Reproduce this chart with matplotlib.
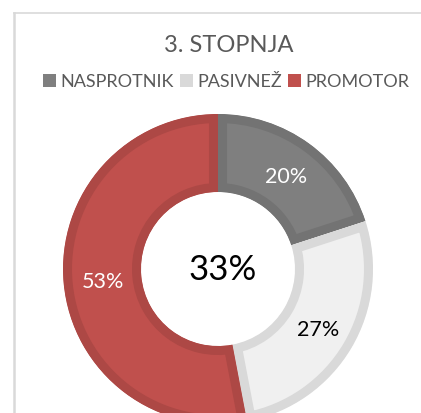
import matplotlib
matplotlib.use("Agg")
import numpy as np
import matplotlib.pyplot as plt
from matplotlib.patches import Wedge, Rectangle

# data
TITLE      = "3. STOPNJA"
CATEGORIES = ["NASPROTNIK", "PASIVNEŽ", "PROMOTOR"]
SHARES     = [20, 27, 53]
CENTER_TXT = "33%"

FILLS  = ["#7f7f7f", "#f0f0f0", "#c0504d"]
EDGES  = ["#737373", "#d9d9d9", "#ad4845"]
LEGEND_FILLS = ["#7f7f7f", "#d9d9d9", "#c0504d"]
LABEL_COLORS = ["white", "black", "white"]

W, H = 421, 414
plt.rcParams["font.family"] = ["Lato", "DejaVu Sans"]

fig = plt.figure(figsize=(W / 100, H / 100), dpi=100)
ax = fig.add_axes([0, 0, 1, 1])
ax.set_xlim(0, W)
ax.set_ylim(0, H)
ax.axis("off")

# chart frame (top + left border)
ax.plot([14, W], [H - 14, H - 14], color="#d9d9d9", lw=1.2)
ax.plot([14, 14], [0, H - 14], color="#d9d9d9", lw=1.8)

cx, cy = 218, H - 270
r_out, r_in = 155, 77
total = sum(SHARES)

# donut rings, edge drawn only on the inside of each wedge
start = 90.0
for share, fc, ec in zip(SHARES, FILLS, EDGES):
    sweep = 360.0 * share / total
    end = start - sweep
    w = Wedge((cx, cy), r_out, end, start, width=r_out - r_in,
              facecolor=fc, edgecolor=ec, linewidth=13)
    ax.add_patch(w)
    w.set_clip_path(w)
    start = end

# data labels
start = 90.0
rr = (r_out + r_in) / 2
for share, lc in zip(SHARES, LABEL_COLORS):
    sweep = 360.0 * share / total
    mid = np.deg2rad(start - sweep / 2)
    ax.text(cx + rr * np.cos(mid), cy + rr * np.sin(mid) - 1, f"{share}%",
            color=lc, fontsize=15.5, ha="center", va="center")
    start -= sweep

ax.text(223, H - 270, CENTER_TXT, fontsize=25, ha="center", va="center",
        color="black")

ax.text(229, H - 45, TITLE, fontsize=17, ha="center", va="center",
        color="#595959")

# legend row
legend_x = [43, 180, 288]
for x, name, fc in zip(legend_x, CATEGORIES, LEGEND_FILLS):
    ax.add_patch(Rectangle((x, H - 88), 13, 13, facecolor=fc, edgecolor="none"))
    ax.text(x + 17, H - 82, name, fontsize=13, ha="left", va="center",
            color="#595959")

fig.savefig("out.png", dpi=100)
